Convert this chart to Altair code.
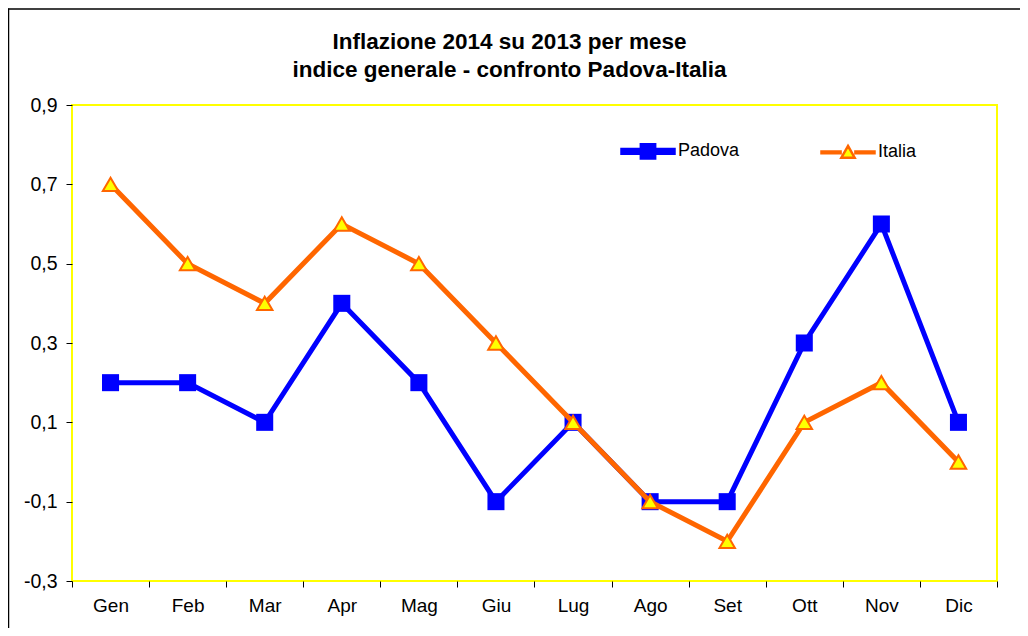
import altair as alt
import pandas as pd

mesi = ["Gen", "Feb", "Mar", "Apr", "Mag", "Giu", "Lug", "Ago", "Set", "Ott", "Nov", "Dic"]
padova = [0.2, 0.2, 0.1, 0.4, 0.2, -0.1, 0.1, -0.1, -0.1, 0.3, 0.6, 0.1]
italia = [0.7, 0.5, 0.4, 0.6, 0.5, 0.3, 0.1, -0.1, -0.2, 0.1, 0.2, 0.0]
serie = ["Padova", "Italia"]
y_ticks = [-0.3, -0.1, 0.1, 0.3, 0.5, 0.7, 0.9]

rows = []
for m, p, i in zip(mesi, padova, italia):
    rows.append({"mese": m, "serie": "Padova", "valore": p})
    rows.append({"mese": m, "serie": "Italia", "valore": i})
df = pd.DataFrame(rows)

FONT = "Liberation Sans"
BLUE = "#0000FF"
ORANGE = "#FF6600"
YELLOW = "#FFFF00"

x_enc = alt.X(
    "mese:N",
    sort=mesi,
    scale=alt.Scale(type="band", domain=mesi, paddingInner=0, paddingOuter=0),
    axis=alt.Axis(
        title=None, domain=False, grid=False, tickBand="extent", tickSize=6,
        tickColor="black", tickWidth=1, labelFontSize=19, labelFont=FONT,
        labelColor="black", labelPadding=9, labelAngle=0,
    ),
)
y_enc = alt.Y(
    "valore:Q",
    scale=alt.Scale(domain=[-0.3, 0.9], nice=False, zero=False),
    axis=alt.Axis(
        title=None, domain=False, grid=False, values=y_ticks, tickSize=6,
        tickColor="black", tickWidth=1, labelFontSize=19.5, labelFont=FONT,
        labelColor="black", labelPadding=9,
        labelExpr="(datum.value < 0 ? '-' : '') + replace(format(abs(datum.value), '.1f'), '.', ',')",
    ),
)

base = alt.Chart(df)

pad_line = base.transform_filter("datum.serie == 'Padova'").mark_line(
    color=BLUE, strokeWidth=5).encode(x=x_enc, y=y_enc)
pad_pts = base.transform_filter("datum.serie == 'Padova'").mark_point(
    shape="square", filled=True, fill=BLUE, color=BLUE, size=290, opacity=1).encode(x=x_enc, y=y_enc)
ita_line = base.transform_filter("datum.serie == 'Italia'").mark_line(
    color=ORANGE, strokeWidth=5).encode(x=x_enc, y=y_enc)
ita_pts = base.transform_filter("datum.serie == 'Italia'").mark_point(
    shape="triangle-up", filled=True, fill=YELLOW, stroke=ORANGE, strokeWidth=2,
    size=240, opacity=1).encode(x=x_enc, y=y_enc)

# legend-only layer (no rows drawn)
sym_pad = "M-1,-0.09H1V0.09H-1Z M-0.27,-0.27H0.27V0.27H-0.27Z"
sym_ita = "M-1,-0.035H-0.28V0.035H-1Z M0.28,-0.035H1V0.035H0.28Z M0,-0.24L0.25,0.2H-0.25Z"
leg = alt.Legend(
    title=None, orient="none", legendX=548, legendY=18, direction="horizontal",
    symbolSize=2809, symbolStrokeWidth=2.5, labelFontSize=18, labelFont=FONT,
    labelColor="black", labelOffset=2, columnPadding=76, padding=0,
    symbolOpacity=1,
)
legend_layer = base.transform_filter("false").mark_point(size=2809, filled=True, opacity=1).encode(
    x=x_enc, y=y_enc,
    shape=alt.Shape("serie:N", scale=alt.Scale(domain=serie, range=[sym_pad, sym_ita]), legend=leg),
    fill=alt.Fill("serie:N", scale=alt.Scale(domain=serie, range=[BLUE, YELLOW]), legend=leg),
    stroke=alt.Stroke("serie:N", scale=alt.Scale(domain=serie, range=[BLUE, ORANGE]), legend=leg),
)

one = alt.Data(values=[{"k": 1}])
border_left = alt.Chart(one).mark_rule(color="black", strokeWidth=1.5, clip=False).encode(
    x=alt.value(-63.5), y=alt.value(-96.5), y2=alt.value(560))
border_top = alt.Chart(one).mark_rule(color="black", strokeWidth=1.5, clip=False).encode(
    x=alt.value(-64), x2=alt.value(960), y=alt.value(-96))

chart = alt.layer(
    border_left, border_top, pad_line, pad_pts, ita_line, ita_pts, legend_layer
).properties(
    width=925,
    height=476,
    background="white",
    padding={"left": 64, "top": 97, "right": 23, "bottom": 47},
    autosize=alt.AutoSizeParams(type="none"),
    title=alt.TitleParams(
        text=["Inflazione 2014 su 2013 per mese", "indice generale - confronto Padova-Italia"],
        fontSize=22.5, font=FONT, fontWeight="bold", color="black", anchor="middle",
        dx=-25, offset=0, dy=74, lineHeight=28,
    ),
).configure_view(
    stroke=YELLOW, strokeWidth=2
)

chart.save("out.html", embed_options={"renderer": "svg", "actions": False})
